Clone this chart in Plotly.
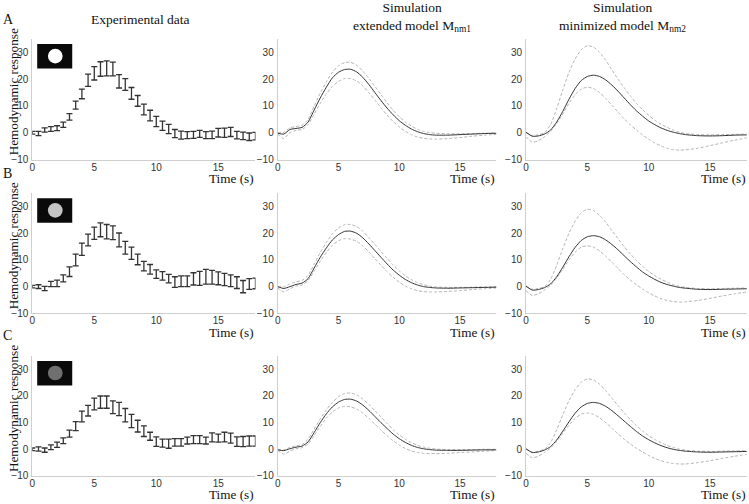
import plotly.graph_objects as go
from plotly.subplots import make_subplots

# experimental data (mean +/- error), sampled every 0.5 s
EXP_T = [i * 0.5 for i in range(37)]
EXP_A = [0.0, -0.3, 1.0, 1.4, 1.7, 3.0, 5.9, 10.3, 14.5, 19.6, 22.2, 23.8, 24.0, 23.8, 19.2, 18.0,
         14.7, 11.9, 8.7, 6.4, 4.2, 2.6, 1.4, -0.3, -0.9, -0.9, -0.8, -0.4, -0.9, -0.8, 0.0, 0.0,
         0.3, -0.9, -1.2, -1.5, -1.3]
ERR_A = [0.5, 0.8, 0.8, 0.9, 0.9, 1.0, 1.2, 1.5, 1.8, 2.3, 2.5, 2.7, 2.8, 2.6, 2.5, 2.2,
         2.2, 2.0, 2.0, 2.0, 1.9, 1.7, 1.7, 1.5, 1.5, 1.3, 1.3, 1.3, 1.3, 1.4, 1.6, 1.7,
         1.7, 1.4, 1.4, 1.4, 1.4]
EXP_B = [0.0, 0.0, -0.7, 1.0, 1.2, 3.1, 5.6, 10.0, 14.0, 17.5, 20.0, 21.3, 20.6, 20.2, 17.5, 14.6,
         12.5, 10.2, 7.7, 6.5, 4.7, 4.0, 3.0, 1.7, 2.0, 2.0, 2.9, 3.1, 3.7, 3.5, 3.1, 2.7,
         2.2, 1.5, 0.0, 1.0, 1.2]
ERR_B = [0.5, 0.7, 0.8, 1.0, 1.2, 1.3, 1.8, 2.2, 2.3, 2.2, 2.3, 2.6, 2.7, 2.6, 2.6, 2.4,
         2.3, 2.0, 1.8, 1.8, 1.6, 1.6, 1.6, 2.0, 2.0, 2.0, 2.3, 2.6, 2.8, 2.6, 2.4, 2.3,
         2.2, 2.2, 2.3, 2.0, 2.0]
EXP_C = [0.0, 0.1, -0.3, 0.8, 1.7, 3.2, 5.9, 8.7, 12.3, 14.5, 17.0, 17.7, 17.7, 15.8, 15.1, 12.8,
         10.6, 8.7, 6.8, 4.9, 2.9, 2.3, 2.1, 2.6, 2.6, 3.3, 3.6, 3.6, 3.3, 4.5, 4.2, 4.6,
         4.2, 2.9, 2.9, 3.1, 3.1]
ERR_C = [0.5, 0.8, 0.8, 0.9, 1.0, 1.1, 1.3, 1.7, 2.0, 2.0, 2.2, 2.3, 2.3, 2.4, 2.5, 2.5,
         2.5, 2.2, 2.0, 1.5, 1.8, 1.5, 1.7, 1.4, 1.4, 1.3, 1.5, 1.5, 1.3, 1.7, 1.5, 1.8,
         1.9, 1.8, 1.9, 1.9, 1.9]

# simulations (mean, upper and lower bound)
SIM_T = [i * 0.5 for i in range(27)] + [14, 15, 16, 17, 18]

M1_A = [-0.2, -0.5, 1.2, 1.6, 2.0, 4.0, 8.5, 13.0, 17.0, 20.5, 22.6, 23.6, 23.7, 22.7, 20.7, 18.0,
        15.0, 12.0, 9.2, 6.7, 4.5, 2.8, 1.4, 0.4, -0.3, -0.7, -0.9, -0.9, -0.7, -0.5, -0.3, -0.2]
M1_A_HI = [0.0, 0.2, 1.8, 2.3, 2.8, 5.0, 10.0, 14.8, 19.0, 22.6, 25.0, 26.2, 26.3, 25.2, 23.0, 20.3,
           17.3, 14.2, 11.2, 8.4, 6.0, 4.0, 2.5, 1.3, 0.5, 0.1, -0.2, -0.4, -0.4, -0.3, -0.2, -0.1]
M1_A_LO = [-0.5, -2.2, 0.0, 0.9, 1.2, 3.0, 7.0, 11.0, 14.5, 17.3, 19.2, 20.2, 20.2, 19.3, 17.5, 15.0,
           12.2, 9.3, 6.6, 4.2, 2.2, 0.5, -0.7, -1.6, -2.1, -2.3, -2.4, -2.2, -1.8, -1.3, -0.9, -0.6]

M2_A = [0.2, -1.3, -1.2, -0.5, 1.0, 4.0, 8.0, 12.5, 16.5, 19.5, 21.0, 21.5, 21.0, 19.7, 17.8, 15.5,
        13.0, 10.5, 8.2, 6.2, 4.4, 3.0, 1.8, 0.9, 0.2, -0.3, -0.7, -1.1, -1.2, -1.1, -0.9, -0.8]
M2_A_HI = [0.0, -1.0, -0.8, 0.0, 3.0, 9.0, 16.0, 22.5, 27.5, 31.0, 32.5, 32.0, 30.0, 27.0, 23.5, 20.0,
           16.8, 13.8, 11.0, 8.6, 6.5, 4.7, 3.2, 2.0, 1.0, 0.2, -0.3, -0.7, -0.8, -0.7, -0.6, -0.5]
M2_A_LO = [-1.5, -3.5, -3.0, -1.5, 0.5, 3.5, 7.0, 11.0, 14.2, 16.3, 17.0, 16.5, 15.0, 12.8, 10.3, 7.7,
           5.2, 3.0, 1.0, -0.8, -2.4, -3.8, -4.9, -5.8, -6.3, -6.5, -6.4, -5.8, -4.8, -3.8, -2.8, -1.9]

M1_B = [0.0, -0.7, 0.0, 0.8, 1.3, 3.0, 7.0, 11.0, 14.5, 17.5, 19.5, 20.7, 20.8, 20.0, 18.3, 16.0,
        13.5, 11.0, 8.5, 6.2, 4.3, 2.7, 1.5, 0.6, 0.0, -0.3, -0.5, -0.6, -0.5, -0.4, -0.3, -0.2]
M1_B_HI = [0.0, 0.0, 1.0, 1.8, 2.3, 4.2, 8.5, 12.8, 16.5, 19.8, 22.0, 23.2, 23.3, 22.5, 20.8, 18.4,
           15.8, 13.2, 10.6, 8.1, 5.9, 4.0, 2.6, 1.5, 0.7, 0.2, -0.1, -0.3, -0.3, -0.2, -0.1, 0.0]
M1_B_LO = [-0.5, -2.0, -0.8, 0.2, 0.6, 2.3, 5.8, 9.5, 12.8, 15.5, 17.2, 18.0, 17.8, 17.0, 15.3, 13.0,
           10.5, 8.0, 5.6, 3.5, 1.7, 0.2, -0.8, -1.5, -1.9, -2.0, -2.0, -1.8, -1.5, -1.1, -0.8, -0.5]

M2_B = [0.2, -1.3, -1.1, -0.4, 1.0, 3.7, 7.3, 11.2, 14.7, 17.3, 18.7, 19.1, 18.7, 17.5, 15.8, 13.8,
        11.6, 9.4, 7.4, 5.5, 4.0, 2.7, 1.6, 0.8, 0.2, -0.3, -0.6, -1.0, -1.1, -1.0, -0.9, -0.8]
M2_B_HI = [0.0, -1.0, -0.7, 0.0, 2.7, 8.0, 14.3, 20.0, 24.5, 27.7, 29.0, 28.5, 26.7, 24.1, 21.0, 18.0,
           15.0, 12.3, 9.8, 7.6, 5.7, 4.1, 2.8, 1.7, 0.8, 0.1, -0.3, -0.7, -0.8, -0.7, -0.6, -0.5]
M2_B_LO = [-1.5, -3.3, -2.7, -1.3, 0.5, 3.2, 6.5, 10.0, 12.9, 14.8, 15.3, 14.8, 13.4, 11.4, 9.1, 6.8,
           4.5, 2.5, 0.7, -0.9, -2.3, -3.5, -4.5, -5.2, -5.6, -5.8, -5.7, -5.2, -4.4, -3.5, -2.7, -2.0]

M1_C = [-0.2, -0.5, 0.2, 0.8, 1.2, 2.8, 6.3, 10.0, 13.3, 15.9, 17.7, 18.7, 18.8, 18.1, 16.6, 14.6,
        12.3, 10.0, 7.8, 5.7, 4.0, 2.6, 1.5, 0.7, 0.2, -0.1, -0.3, -0.4, -0.4, -0.3, -0.2, -0.2]
M1_C_HI = [0.0, -0.2, 0.7, 1.3, 1.8, 3.8, 7.6, 11.4, 14.8, 17.6, 19.7, 20.9, 21.1, 20.4, 18.9, 16.8,
           14.5, 12.1, 9.7, 7.4, 5.4, 3.8, 2.5, 1.5, 0.8, 0.4, 0.1, -0.1, -0.1, -0.1, 0.0, 0.0]
M1_C_LO = [-0.4, -1.8, -0.7, 0.2, 0.6, 2.0, 5.2, 8.6, 11.7, 14.0, 15.5, 16.1, 15.9, 15.1, 13.6, 11.6,
           9.4, 7.2, 5.1, 3.2, 1.6, 0.3, -0.6, -1.2, -1.5, -1.6, -1.6, -1.5, -1.2, -1.0, -0.7, -0.5]

M2_C = [0.2, -1.2, -1.0, -0.3, 1.0, 3.5, 6.8, 10.3, 13.5, 15.9, 17.2, 17.6, 17.2, 16.1, 14.5, 12.6,
        10.6, 8.6, 6.7, 5.0, 3.6, 2.4, 1.4, 0.6, 0.0, -0.4, -0.7, -1.0, -1.1, -1.0, -0.9, -0.8]
M2_C_HI = [0.0, -1.0, -0.7, 0.0, 2.5, 7.3, 13.0, 18.2, 22.4, 25.2, 26.4, 26.0, 24.4, 22.0, 19.2, 16.4,
           13.7, 11.2, 8.9, 6.9, 5.1, 3.7, 2.5, 1.5, 0.7, 0.1, -0.3, -0.7, -0.8, -0.7, -0.6, -0.5]
M2_C_LO = [-1.5, -3.2, -2.6, -1.2, 0.5, 3.0, 6.0, 9.0, 11.6, 13.2, 13.6, 13.1, 11.8, 10.0, 7.9, 5.8,
           3.8, 2.0, 0.4, -1.0, -2.3, -3.4, -4.3, -4.9, -5.3, -5.5, -5.5, -5.0, -4.3, -3.4, -2.6, -1.9]

ROW_LABELS = ["A", "B", "C"]
STIM_COLORS = ["#ffffff", "#c4c4c4", "#6f6f6f"]

exp_rows = [(EXP_A, ERR_A), (EXP_B, ERR_B), (EXP_C, ERR_C)]
sim_rows = [
    [(M1_A, M1_A_HI, M1_A_LO), (M2_A, M2_A_HI, M2_A_LO)],
    [(M1_B, M1_B_HI, M1_B_LO), (M2_B, M2_B_HI, M2_B_LO)],
    [(M1_C, M1_C_HI, M1_C_LO), (M2_C, M2_C_HI, M2_C_LO)],
]

SERIF = "Liberation Serif"
SANS = "Liberation Sans"

col_domains = [[0.0431, 0.3411], [0.3708, 0.6628], [0.7023, 0.9971]]
row_domains = [[0.6835, 0.9226], [0.3784, 0.6165], [0.0556, 0.2937]]

fig = make_subplots(rows=3, cols=3)

for r in range(3):
    mean, err = exp_rows[r]
    fig.add_trace(
        go.Scatter(
            x=EXP_T, y=mean, mode="markers",
            marker=dict(size=1, color="rgba(0,0,0,0)"),
            error_y=dict(type="data", array=err, visible=True, color="#333333",
                         thickness=1.3, width=3),
            showlegend=False, hoverinfo="skip",
        ),
        row=r + 1, col=1,
    )
    for c in range(2):
        mean, hi, lo = sim_rows[r][c]
        for ys in (hi, lo):
            fig.add_trace(
                go.Scatter(x=SIM_T, y=ys, mode="lines",
                           line=dict(color="#b4b4b4", width=1, dash="3px,2px",
                                     shape="spline", smoothing=0.6),
                           showlegend=False),
                row=r + 1, col=c + 2,
            )
        fig.add_trace(
            go.Scatter(x=SIM_T, y=mean, mode="lines",
                       line=dict(color="#333333", width=1, shape="spline", smoothing=0.6),
                       showlegend=False),
            row=r + 1, col=c + 2,
        )

axis_common = dict(
    showgrid=False, zeroline=False, showline=True, linecolor="#cfcfcf", linewidth=1,
    ticks="", automargin=False, tickfont=dict(family=SANS, size=10, color="#333333"),
)
layout = {}
for r in range(3):
    for c in range(3):
        idx = r * 3 + c + 1
        sfx = "" if idx == 1 else str(idx)
        layout["xaxis" + sfx] = dict(axis_common, domain=col_domains[c], range=[0, 18],
                                     tickvals=[0, 5, 10, 15], anchor="y" + sfx,
                                     ticklabelstandoff=-2)
        layout["yaxis" + sfx] = dict(axis_common, domain=row_domains[r], range=[-10, 35],
                                     tickvals=[-10, 0, 10, 20, 30], anchor="x" + sfx,
                                     ticklabelstandoff=1)

annotations = []
shapes = []
for r in range(3):
    first = r * 3 + 1
    sfx1 = "" if first == 1 else str(first)
    # panel letter
    annotations.append(dict(text=ROW_LABELS[r], xref="paper", x=0.002, xanchor="left",
                            yref="y" + sfx1 + " domain", y=1, yshift=20, yanchor="middle",
                            showarrow=False, font=dict(family=SERIF, size=14, color="#111")))
    # y label
    annotations.append(dict(text="Hemodynamic response", textangle=-90,
                            xref="x" + sfx1 + " domain", x=0, xshift=-19, xanchor="center",
                            yref="y" + sfx1 + " domain", y=0.56, yanchor="middle",
                            showarrow=False, font=dict(family=SERIF, size=13.2, color="#111")))
    for c in range(3):
        idx = r * 3 + c + 1
        sfx = "" if idx == 1 else str(idx)
        annotations.append(dict(text="Time (s)", xref="x" + sfx + " domain", x=1, xshift=1,
                                xanchor="right", yref="y" + sfx + " domain", y=0, yshift=-19,
                                yanchor="middle", showarrow=False,
                                font=dict(family=SERIF, size=13.2, color="#111")))
    # stimulus inset
    shapes.append(dict(type="rect", xref="x" + sfx1 + " domain", yref="y" + sfx1 + " domain",
                       x0=0.022, x1=0.179, y0=0.755, y1=0.958,
                       fillcolor="#0a0a0a", line=dict(width=0), layer="above"))
    shapes.append(dict(type="circle", xref="x" + sfx1 + " domain", yref="y" + sfx1 + " domain",
                       x0=0.103 - 0.033, x1=0.103 + 0.033, y0=0.858 - 0.061, y1=0.858 + 0.061,
                       fillcolor=STIM_COLORS[r], line=dict(width=0), layer="above"))

annotations.append(dict(text="Experimental data", xref="paper", x=0.187, xanchor="center",
                        yref="paper", y=1 - 20 / 504, yanchor="middle", showarrow=False,
                        font=dict(family=SERIF, size=13.5, color="#111")))
annotations.append(dict(text="Simulation<br>extended model M<sub>nm1</sub>", xref="paper",
                        x=0.55, xanchor="center", yref="paper", y=1 - 17 / 504, yanchor="middle",
                        showarrow=False, font=dict(family=SERIF, size=13.5, color="#111")))
annotations.append(dict(text="Simulation<br>minimized model M<sub>nm2</sub>", xref="paper",
                        x=0.8305, xanchor="center", yref="paper", y=1 - 17 / 504, yanchor="middle",
                        showarrow=False, font=dict(family=SERIF, size=13.5, color="#111")))

fig.update_layout(
    **layout,
    width=749, height=504,
    margin=dict(l=0, r=0, t=0, b=0),
    paper_bgcolor="white", plot_bgcolor="white",
    showlegend=False,
    annotations=annotations,
    shapes=shapes,
)

# the page's default body margin would push the fixed-size figure off the window
fig.write_html("out.html", config={"displayModeBar": False},
               post_script="document.body.style.margin = '0';")
